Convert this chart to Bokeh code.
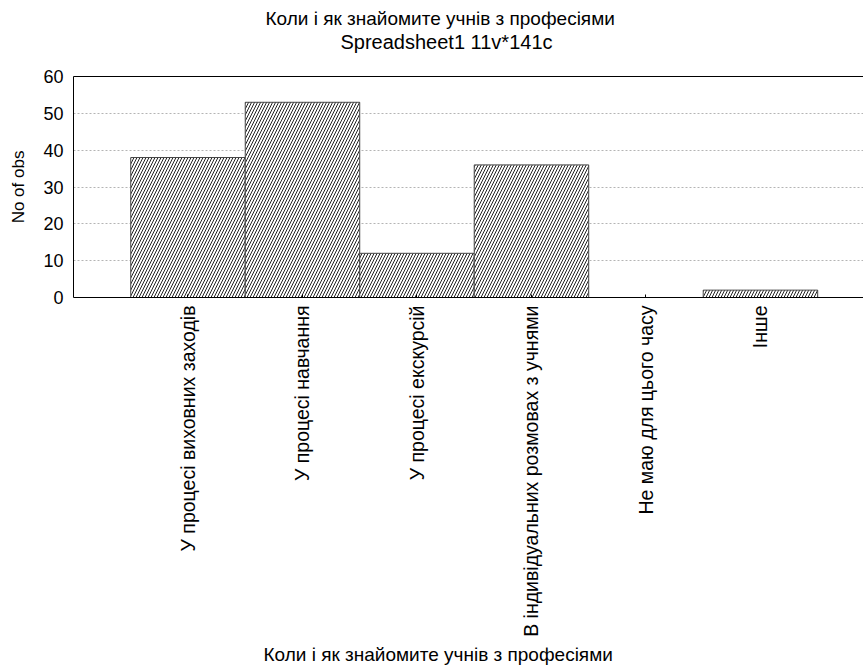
import math
from bokeh.plotting import figure
from bokeh.models import Range1d, FixedTicker, LinearAxis, Title
from bokeh.embed import file_html
from bokeh.resources import INLINE

categories = ["У процесі виховних заходів", "У процесі навчання", "У процесі екскурсій",
              "В індивідуальних розмовах з учнями", "Не маю для цього часу", "Інше"]
counts = [38, 53, 12, 36, 0, 2]
y_ticks = [0, 10, 20, 30, 40, 50, 60]
title_main = "Коли і як знайомите учнів з професіями"
title_sub = "Spreadsheet1 11v*141c"
x_label = "Коли і як знайомите учнів з професіями"
y_label = "No of obs"

FONT = "Liberation Sans"
xs = list(range(len(categories)))

p = figure(width=863, height=666, title=None, output_backend="svg", toolbar_location=None,
           x_range=Range1d(-1.0, 5.9), y_range=Range1d(0, 60),
           min_border_left=73, min_border_right=0, min_border_top=76, min_border_bottom=369)

p.vbar(x=xs, top=counts, width=1.0, bottom=0, fill_color="white", line_color="#444444", line_width=1,
       hatch_pattern="/", hatch_scale=6, hatch_weight=1, hatch_color="#222222")

p.outline_line_color = None
p.background_fill_color = "white"

# x axis
xa = p.xaxis[0]
xa.ticker = FixedTicker(ticks=xs)
xa.major_label_overrides = {i: c for i, c in zip(xs, categories)}
xa.major_label_orientation = math.pi / 2
xa.major_label_text_font = FONT
xa.major_label_text_font_size = "19.5px"
xa.major_label_text_color = "black"
xa.major_tick_in = 3
xa.major_tick_out = 0
xa.minor_tick_line_color = None
xa.axis_line_color = "black"
xa.major_label_standoff = 8

# y axis
ya = p.yaxis[0]
ya.ticker = FixedTicker(ticks=y_ticks)
ya.major_label_text_font = FONT
ya.major_label_text_font_size = "18px"
ya.major_label_text_color = "black"
ya.major_tick_in = 0
ya.major_tick_out = 0
ya.minor_tick_line_color = None
ya.axis_line_color = "black"
ya.major_label_standoff = 10
ya.axis_label = y_label
ya.axis_label_text_font = FONT
ya.axis_label_text_font_size = "17px"
ya.axis_label_text_font_style = "normal"
ya.axis_label_text_color = "black"
ya.axis_label_standoff = 12

# top border (with an invisible label used as spacing under the titles)
top = LinearAxis(ticker=FixedTicker(ticks=[]), major_tick_line_color=None, minor_tick_line_color=None,
                 major_label_text_font_size="0px", axis_line_color="black",
                 axis_label="\u00a0", axis_label_text_font_size="19px", axis_label_standoff=0,
                 axis_label_text_color="white")
p.add_layout(top, "above")

p.xgrid.grid_line_color = None
p.ygrid.ticker = FixedTicker(ticks=[10, 20, 30, 40, 50])
p.ygrid.grid_line_color = "#b4b4b4"
p.ygrid.grid_line_dash = "2 2"

p.add_layout(Title(text=title_sub, align="left", offset=267, standoff=0, text_font=FONT,
                   text_font_size="20px", text_font_style="normal", text_color="black",
                   text_line_height=1.0), "above")
p.add_layout(Title(text=title_main, align="left", offset=192, standoff=0, text_font=FONT,
                   text_font_size="19px", text_font_style="normal", text_color="black",
                   text_line_height=1.0), "above")
p.add_layout(Title(text=x_label, align="left", offset=190, standoff=4, text_font=FONT,
                   text_font_size="19px", text_font_style="normal", text_color="black",
                   text_line_height=1.0), "below")

open("out.html", "w").write(file_html(p, INLINE))
